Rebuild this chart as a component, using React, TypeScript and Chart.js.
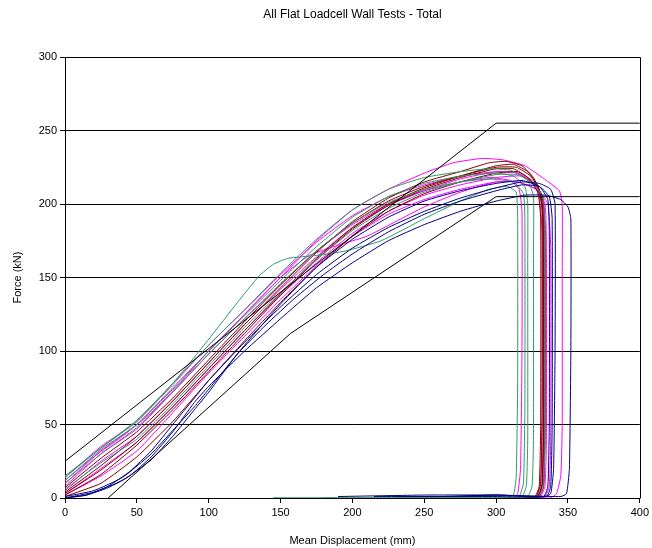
import React, { useEffect, useRef } from "react";
import { Chart, registerables } from "chart.js";

Chart.register(...registerables);

type P = [number, number];

const chartTitle = "All Flat Loadcell Wall Tests - Total";
const xTitle = "Mean Displacement (mm)";
const yTitle = "Force (kN)";
const xTicks = [0, 50, 100, 150, 200, 250, 300, 350, 400];
const yTicks = [0, 50, 100, 150, 200, 250, 300];

const upperLimit: P[] = [[0, 25], [300, 255], [400, 255]];
const lowerLimit: P[] = [[30, 0], [157, 112], [300, 205], [400, 205]];

const blue1: P[] = [[0,0],[15,2],[30,7],[45,15],[60,28],[75,45],[90,65],[100,76],[125,100],[150,122],[175,143],[200,160],[225,175],[250,186],[275,195],[300,202],[320,206],[335,206],[345,203],[350,198],[352,190],[352,100],[351,20],[349,3],[345,1],[300,2],[260,1],[215,1]];
const blue2: P[] = [[0,0],[15,2],[30,8],[45,18],[60,32],[75,50],[90,68],[100,80],[125,106],[150,130],[175,152],[200,170],[225,184],[250,195],[275,204],[300,211],[318,215],[330,214],[338,210],[341,200],[341,100],[340,20],[338,3],[334,1],[300,2],[250,2],[190,1]];
const blue3: P[] = [[0,1],[20,5],[40,14],[60,30],[75,46],[90,62],[100,74],[125,104],[150,132],[175,157],[200,176],[225,191],[250,202],[275,209],[300,214],[318,216],[330,212],[336,203],[337,180],[337,50],[336,8],[333,1],[300,1],[230,1]];
const blue4: P[] = [[0,0],[20,4],[40,12],[60,26],[75,42],[90,60],[100,72],[120,98],[140,118],[160,136],[180,152],[200,166],[225,181],[250,193],[275,202],[300,209],[318,213],[330,212],[337,205],[339,190],[339,50],[338,8],[335,1],[300,2],[270,1]];

const green1: P[] = [[0,15],[25,34],[50,53],[75,78],[100,108],[120,133],[135,151],[145,159],[155,163],[175,165],[195,168],[220,175],[250,190],[275,202],[295,210],[308,212],[314,208],[315,190],[315,80],[314,15],[312,2],[305,0],[250,0],[200,0],[145,0]];
const green2: P[] = [[0,14],[25,34],[50,52],[75,77],[100,104],[125,128],[150,153],[175,176],[200,196],[225,210],[250,218],[275,222],[295,224],[310,223],[322,216],[326,205],[326,170],[326,40],[325,8],[322,1],[315,0],[250,0],[180,0]];
const green3: P[] = [[0,10],[25,30],[50,48],[75,72],[100,98],[125,122],[150,146],[175,168],[200,187],[225,201],[250,210],[275,215],[295,217],[312,215],[319,207],[320,190],[320,60],[319,10],[316,1],[310,0],[230,0]];
const green4: P[] = [[0,6],[25,24],[50,40],[75,64],[100,90],[125,116],[150,140],[175,162],[200,182],[225,197],[250,208],[275,215],[300,220],[315,220],[327,213],[333,203],[334,170],[334,40],[333,8],[330,1],[322,0]];
const green5: P[] = [[0,12],[25,33],[50,50],[75,74],[100,100],[125,124],[150,148],[175,171],[200,191],[225,205],[250,214],[275,219],[300,221],[312,219],[320,212],[322,200],[322,160],[322,40],[321,8],[318,1],[310,0],[145,0]];

const maroon1: P[] = [[0,4],[25,22],[50,42],[75,66],[100,92],[125,118],[150,143],[175,167],[200,188],[225,204],[250,215],[275,222],[295,228],[307,229],[318,226],[326,218],[331,207],[333,190],[333,60],[332,10],[329,1],[322,0]];
const maroon2: P[] = [[0,2],[25,16],[50,36],[75,60],[100,86],[125,112],[150,138],[175,162],[200,183],[225,199],[250,210],[275,218],[300,224],[312,224],[322,218],[329,208],[331,190],[331,50],[330,8],[327,1],[320,0]];
const maroon3: P[] = [[0,1],[25,10],[50,28],[75,52],[100,80],[125,107],[150,133],[175,157],[200,178],[225,195],[250,207],[275,215],[300,221],[315,222],[325,216],[332,206],[334,185],[334,50],[333,8],[330,1],[323,0]];
const maroon4: P[] = [[0,7],[25,27],[50,45],[75,68],[100,94],[125,120],[150,145],[175,168],[200,187],[225,202],[250,212],[275,219],[300,225],[314,225],[324,219],[330,210],[332,195],[332,60],[331,10],[328,1],[320,0]];
const maroon5: P[] = [[0,3],[25,19],[50,38],[75,62],[100,88],[125,114],[150,139],[175,163],[200,184],[225,200],[250,211],[275,219],[300,226],[312,227],[322,222],[329,212],[332,198],[333,170],[333,40],[332,8],[329,1],[322,0]];

const magenta1: P[] = [[0,12],[20,28],[40,42],[60,58],[80,78],[100,100],[125,125],[150,150],[175,175],[200,196],[225,210],[250,221],[270,228],[290,231],[305,230],[320,226],[335,216],[344,209],[346,200],[346,150],[346,50],[345,15],[342,3],[338,0],[330,0]];
const magenta2: P[] = [[0,8],[25,30],[50,47],[75,72],[100,98],[125,122],[150,145],[175,168],[200,186],[225,200],[250,209],[275,215],[295,218],[310,216],[316,210],[318,195],[318,100],[317,20],[315,3],[312,0],[305,0]];
const magenta3: P[] = [[0,5],[25,25],[50,42],[75,66],[100,92],[125,118],[150,142],[175,164],[200,184],[225,199],[250,209],[275,217],[300,222],[315,221],[325,215],[330,205],[332,180],[332,50],[331,10],[328,1],[322,0]];
const magenta4: P[] = [[0,2],[25,15],[50,32],[75,58],[100,85],[125,110],[150,135],[175,158],[200,178],[225,193],[250,203],[275,210],[300,215],[315,215],[328,210],[334,200],[335,170],[335,40],[334,8],[331,1],[325,0]];
const magenta5: P[] = [[0,10],[25,32],[50,50],[75,75],[100,100],[125,125],[150,150],[170,165],[190,172],[210,178],[230,188],[250,198],[275,208],[300,215],[315,215],[328,210],[336,200],[338,170],[338,40],[337,8],[334,1],[328,0]];
const magenta6: P[] = [[0,14],[25,35],[50,52],[75,78],[100,104],[125,128],[150,152],[175,174],[200,192],[225,205],[250,213],[275,219],[300,222],[315,221],[326,214],[332,203],[333,170],[333,40],[332,8],[329,1],[322,0]];
const magenta7: P[] = [[0,3],[25,20],[50,38],[75,62],[100,88],[125,114],[150,138],[175,160],[200,180],[225,195],[250,206],[275,213],[300,218],[318,219],[328,212],[333,202],[334,170],[334,40],[333,8],[330,1],[324,0]];

const NAVY = "#000080";
const MAROON = "#800000";
const GREEN = "#339966";
const MAGENTA = "#FF00FF";
const FONT = "'Liberation Sans', Arial, sans-serif";

const series: { data: P[]; color: string; smooth: boolean }[] = [
  { data: upperLimit, color: "#000000", smooth: false },
  { data: lowerLimit, color: "#000000", smooth: false },
  { data: blue1, color: NAVY, smooth: true },
  { data: blue2, color: NAVY, smooth: true },
  { data: blue3, color: NAVY, smooth: true },
  { data: blue4, color: NAVY, smooth: true },
  { data: green1, color: GREEN, smooth: true },
  { data: green2, color: GREEN, smooth: true },
  { data: green3, color: GREEN, smooth: true },
  { data: green4, color: GREEN, smooth: true },
  { data: green5, color: GREEN, smooth: true },
  { data: maroon1, color: MAROON, smooth: true },
  { data: maroon2, color: MAROON, smooth: true },
  { data: maroon3, color: MAROON, smooth: true },
  { data: maroon4, color: MAROON, smooth: true },
  { data: maroon5, color: MAROON, smooth: true },
  { data: magenta1, color: MAGENTA, smooth: true },
  { data: magenta2, color: MAGENTA, smooth: true },
  { data: magenta3, color: MAGENTA, smooth: true },
  { data: magenta4, color: MAGENTA, smooth: true },
  { data: magenta5, color: MAGENTA, smooth: true },
  { data: magenta6, color: MAGENTA, smooth: true },
  { data: magenta7, color: MAGENTA, smooth: true },
];

const framePlugin = {
  id: "frameAndTitle",
  afterDraw(chart: any) {
    const { ctx, chartArea } = chart;
    ctx.save();
    ctx.strokeStyle = "#000";
    ctx.lineWidth = 1;
    ctx.beginPath();
    ctx.moveTo(Math.round(chartArea.left) + 0.5, Math.round(chartArea.top) + 0.5);
    ctx.lineTo(Math.round(chartArea.right) + 0.5, Math.round(chartArea.top) + 0.5);
    ctx.lineTo(Math.round(chartArea.right) + 0.5, Math.round(chartArea.bottom) + 0.5);
    ctx.stroke();
    ctx.fillStyle = "#000";
    ctx.font = `12px ${FONT}`;
    ctx.textAlign = "center";
    ctx.textBaseline = "middle";
    ctx.fillText(chartTitle, (chartArea.left + chartArea.right) / 2, 15);
    ctx.restore();
  },
};

export default function App() {
  const ref = useRef<HTMLCanvasElement>(null);
  useEffect(() => {
    document.body.style.margin = "0";
    if (!ref.current) return;
    const chart = new Chart(ref.current, {
      type: "line",
      data: {
        datasets: series.map((s) => ({
          data: s.data.map(([x, y]) => ({ x, y })),
          borderColor: s.color,
          backgroundColor: s.color,
          borderWidth: 1,
          pointRadius: 0,
          tension: s.smooth ? 0.15 : 0,
          fill: false,
        })),
      },
      options: {
        responsive: false,
        animation: false,
        devicePixelRatio: 1,
        layout: { padding: { top: 57, right: 11, bottom: 0, left: 0 } },
        plugins: { legend: { display: false }, tooltip: { enabled: false }, title: { display: false } },
        scales: {
          x: {
            type: "linear",
            min: 0,
            max: 400,
            afterBuildTicks: (scale: any) => {
              scale.ticks = xTicks.map((v) => ({ value: v }));
            },
            afterFit: (scale: any) => {
              scale.height = 50;
            },
            ticks: { color: "#000", font: { family: FONT, size: 11 }, padding: 3, maxRotation: 0 },
            grid: { drawOnChartArea: false, drawTicks: true, tickLength: 5, color: "#000" },
            border: { display: true, color: "#000" },
            title: { display: true, text: xTitle, color: "#000", font: { family: FONT, size: 11 }, padding: { top: 0, bottom: 0 } },
          },
          y: {
            type: "linear",
            min: 0,
            max: 300,
            afterBuildTicks: (scale: any) => {
              scale.ticks = yTicks.map((v) => ({ value: v }));
            },
            afterFit: (scale: any) => {
              scale.width = 65;
            },
            ticks: { color: "#000", font: { family: FONT, size: 11 }, padding: 3 },
            grid: { color: "#000", tickLength: 5, drawTicks: true },
            border: { display: true, color: "#000" },
            title: { display: true, text: yTitle, color: "#000", font: { family: FONT, size: 11 }, padding: { top: 11, bottom: 0 } },
          },
        },
      },
      plugins: [framePlugin],
    });
    return () => chart.destroy();
  }, []);
  return (
    <div style={{ position: "absolute", left: 0, top: 0, width: 652, height: 548 }}>
      <canvas ref={ref} width={652} height={548} style={{ width: 652, height: 548, display: "block" }} />
    </div>
  );
}
